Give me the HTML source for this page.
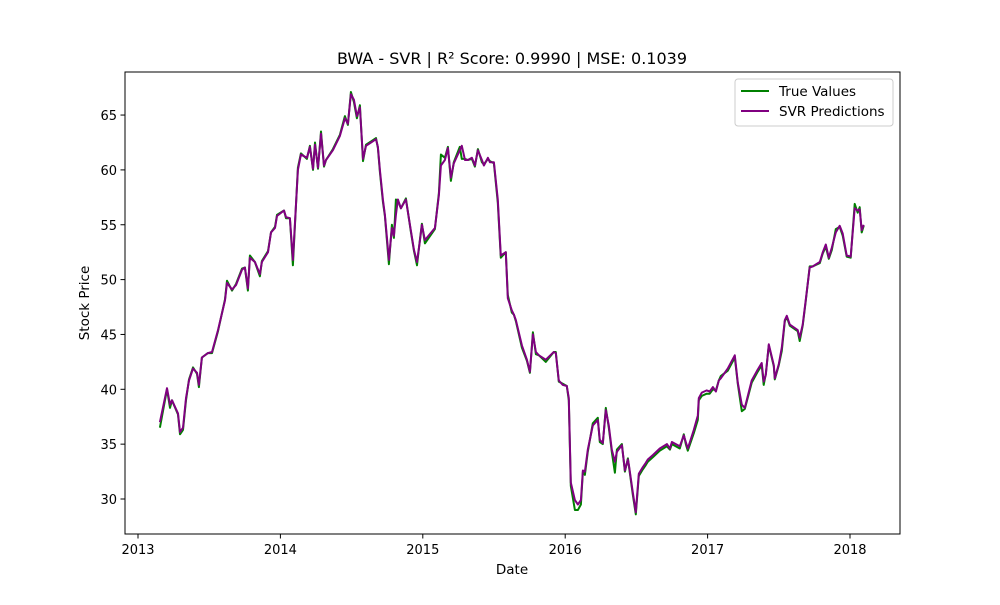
<!DOCTYPE html>
<html><head><meta charset="utf-8">
<style>
body{margin:0;background:#fff;font-family:"Liberation Sans","DejaVu Sans",sans-serif;}
svg text{font-family:"DejaVu Sans","Liberation Sans",sans-serif;}
</style></head>
<body>
<svg id="chart" width="1000" height="600" xmlns="http://www.w3.org/2000/svg">
<rect width="1000" height="600" fill="#fff"/>
<text x="512" y="64" font-size="16" text-anchor="middle">BWA - SVR | R² Score: 0.9990 | MSE: 0.1039</text>
<g id="plot"></g>
<rect x="125" y="72" width="775" height="462" fill="none" stroke="#000" stroke-width="1"/>
<g id="axes"></g>
<text x="512" y="574" font-size="13.5" text-anchor="middle">Date</text>
<text transform="translate(89,303) rotate(-90)" font-size="13.5" text-anchor="middle">Stock Price</text>
<g>
<rect x="735" y="79" width="158" height="47" rx="3" fill="#fff" stroke="#ccc" stroke-width="1"/>
<line x1="741" y1="91" x2="769" y2="91" stroke="green" stroke-width="2"/>
<text x="779" y="96" font-size="13.5">True Values</text>
<line x1="741" y1="111" x2="769" y2="111" stroke="purple" stroke-width="2"/>
<text x="779" y="116" font-size="13.5">SVR Predictions</text>
</g>
</svg>
<script>
const dates=[2013.154,2013.204,2013.225,2013.239,2013.281,2013.295,2013.316,2013.337,2013.358,2013.386,2013.414,2013.428,2013.449,2013.491,2013.520,2013.562,2013.611,2013.625,2013.660,2013.688,2013.730,2013.751,2013.772,2013.786,2013.821,2013.856,2013.870,2013.913,2013.934,2013.962,2013.976,2014.025,2014.039,2014.067,2014.088,2014.123,2014.144,2014.186,2014.207,2014.229,2014.243,2014.264,2014.285,2014.306,2014.320,2014.369,2014.418,2014.453,2014.474,2014.495,2014.516,2014.537,2014.558,2014.580,2014.601,2014.636,2014.671,2014.685,2014.699,2014.720,2014.734,2014.762,2014.783,2014.797,2014.811,2014.825,2014.846,2014.881,2014.916,2014.938,2014.959,2014.980,2014.994,2015.015,2015.085,2015.113,2015.127,2015.155,2015.176,2015.197,2015.218,2015.260,2015.274,2015.296,2015.317,2015.345,2015.366,2015.387,2015.415,2015.429,2015.457,2015.471,2015.499,2015.527,2015.548,2015.583,2015.597,2015.625,2015.640,2015.654,2015.696,2015.731,2015.752,2015.773,2015.794,2015.815,2015.864,2015.920,2015.934,2015.955,2015.983,2016.011,2016.025,2016.039,2016.068,2016.089,2016.110,2016.124,2016.138,2016.159,2016.194,2016.229,2016.243,2016.264,2016.285,2016.306,2016.327,2016.349,2016.363,2016.398,2016.419,2016.440,2016.447,2016.475,2016.496,2016.517,2016.545,2016.566,2016.580,2016.615,2016.664,2016.714,2016.735,2016.749,2016.805,2016.833,2016.847,2016.861,2016.903,2016.931,2016.938,2016.959,2016.994,2017.015,2017.037,2017.058,2017.079,2017.093,2017.142,2017.191,2017.212,2017.240,2017.261,2017.310,2017.352,2017.380,2017.394,2017.409,2017.430,2017.465,2017.472,2017.500,2017.521,2017.542,2017.556,2017.577,2017.633,2017.647,2017.668,2017.689,2017.717,2017.739,2017.788,2017.809,2017.830,2017.851,2017.872,2017.900,2017.928,2017.949,2017.977,2018.005,2018.033,2018.054,2018.068,2018.082,2018.096];
const svrValues=[37.0,40.1,38.6,39.0,37.8,36.1,36.5,39.2,40.8,41.9,41.5,40.4,42.9,43.3,43.4,45.4,48.1,49.7,49.1,49.5,50.9,51.1,49.2,52.0,51.6,50.5,51.6,52.5,54.3,54.7,55.8,56.3,55.7,55.6,51.8,60.0,61.4,61.1,62.1,60.1,62.3,60.2,63.3,60.4,60.9,61.8,63.1,64.7,64.2,66.9,66.4,64.9,65.7,61.0,62.2,62.5,62.8,62.1,60.0,57.3,55.9,51.8,54.7,54.0,55.9,57.3,56.5,57.3,54.5,52.7,51.6,53.6,55.0,53.6,54.7,57.7,60.4,60.9,62.0,59.3,60.6,61.8,62.2,60.9,60.9,61.1,60.4,61.8,60.9,60.4,61.1,60.7,60.7,57.3,52.2,52.5,48.3,47.2,46.8,46.3,44.0,42.7,41.6,45.0,43.4,43.1,42.7,43.4,43.3,40.8,40.4,40.3,39.2,31.5,29.9,29.5,29.9,32.6,32.5,34.5,36.7,37.2,35.4,35.1,38.1,36.7,34.5,33.4,34.3,34.9,32.6,33.6,33.1,30.6,28.8,32.3,32.9,33.3,33.6,34.0,34.6,35.0,34.6,35.2,34.8,35.8,35.2,34.6,36.3,37.6,39.2,39.7,39.9,39.8,40.2,39.8,40.8,41.0,41.9,43.1,40.6,38.6,38.3,40.8,41.8,42.4,40.7,41.3,44.1,42.2,41.0,42.3,43.8,46.3,46.7,45.9,45.4,44.7,45.9,48.1,51.1,51.2,51.6,52.5,53.2,52.0,52.9,54.3,54.9,54.2,52.2,52.1,56.5,56.3,56.4,54.5,55.0];
const trueValues=[36.5,40.0,38.3,39.0,37.7,35.9,36.3,39.0,40.9,42.0,41.4,40.2,42.9,43.3,43.3,45.3,48.2,49.9,49.0,49.6,51.0,51.1,49.0,52.2,51.6,50.3,51.7,52.6,54.3,54.8,55.9,56.3,55.6,55.6,51.3,60.2,61.5,61.0,62.2,60.0,62.5,60.1,63.5,60.3,60.9,61.9,63.2,64.9,64.1,67.1,66.2,64.7,65.9,60.8,62.3,62.6,62.9,62.0,59.8,57.1,55.8,51.4,55.0,53.8,57.3,57.2,56.5,57.4,54.4,52.6,51.3,53.7,55.1,53.3,54.6,57.9,61.4,61.1,62.1,59.0,60.7,62.1,61.0,61.0,60.9,61.0,60.3,61.9,60.7,60.5,61.0,60.8,60.6,57.0,52.0,52.5,48.6,47.0,46.8,46.2,43.8,42.6,41.5,45.2,43.2,43.1,42.5,43.4,43.4,40.7,40.5,40.3,39.0,31.2,29.0,29.0,29.5,32.5,32.2,34.3,36.9,37.4,35.2,35.0,38.3,36.5,34.3,32.4,34.5,35.0,32.5,33.7,33.0,30.4,28.6,32.1,32.7,33.1,33.4,33.8,34.4,34.8,34.5,35.0,34.6,35.9,35.0,34.4,36.0,37.2,39.0,39.4,39.6,39.6,40.0,39.9,40.8,41.2,41.7,42.9,40.5,38.0,38.2,40.6,41.6,42.2,40.4,41.4,44.0,42.1,40.9,42.2,43.5,46.2,46.6,45.8,45.3,44.4,45.8,48.0,51.2,51.2,51.5,52.4,53.0,51.9,52.7,54.6,54.8,54.0,52.1,52.0,56.9,56.1,56.6,54.3,54.9];
const xTicks=[2013,2014,2015,2016,2017,2018];
const yTicks=[30,35,40,45,50,55,60,65];
const NS="http://www.w3.org/2000/svg";
function xScale(t){return 138+(t-2013)*142.4;}
function yScale(v){return 499-(v-30)*10.97;}
const plot=document.getElementById('plot');
const axes=document.getElementById('axes');
function mk(tag,attrs){const e=document.createElementNS(NS,tag);for(const k in attrs)e.setAttribute(k,attrs[k]);return e;}
xTicks.forEach(t=>{const x=xScale(t);
const l=mk('line',{x1:x,y1:534,x2:x,y2:538.5,stroke:'#000'});


axes.appendChild(l);
const tx=mk('text',{x:x,y:554,'font-size':'13','text-anchor':'middle'});tx.textContent=t;


axes.appendChild(tx);});
yTicks.forEach(v=>{const y=yScale(v);
const l=mk('line',{x1:120.5,y1:y,x2:125,y2:y,stroke:'#000'});


axes.appendChild(l);
const tx=mk('text',{x:117,y:y+5,'font-size':'13','text-anchor':'end'});tx.textContent=v;


axes.appendChild(tx);});
function line(vals,color,name){const d=vals.map((v,i)=>(i?'L':'M')+xScale(dates[i]).toFixed(1)+','+yScale(v).toFixed(1)).join(' ');
const p=mk('path',{d:d,fill:'none',stroke:color,'stroke-width':'2','stroke-linejoin':'round'});


plot.appendChild(p);}
line(trueValues,'green','true-values-line');
line(svrValues,'purple','svr-predictions-line');
</script>
</body></html>
